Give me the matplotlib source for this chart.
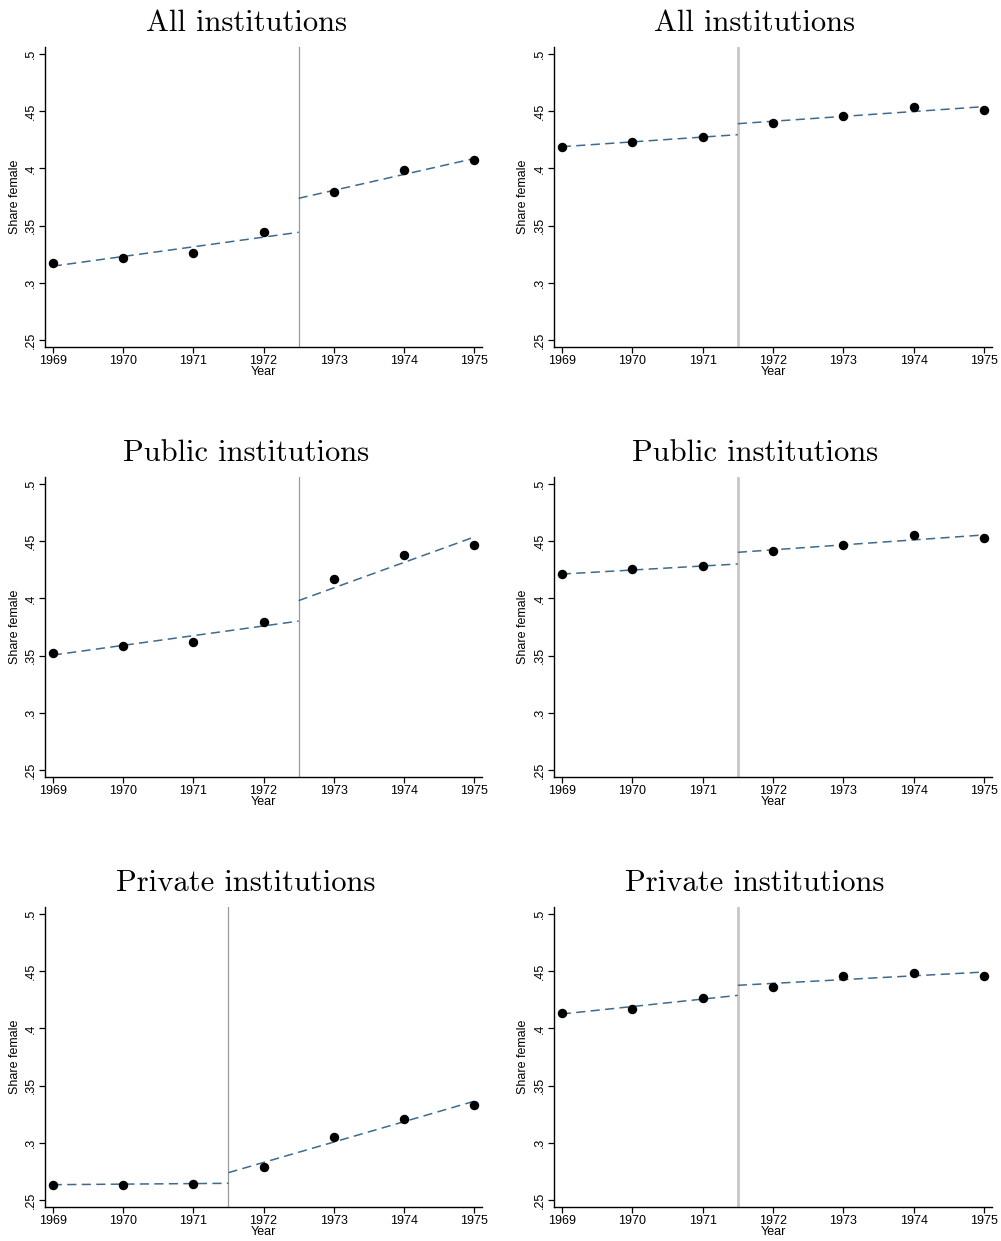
import matplotlib
matplotlib.use('Agg')
import matplotlib.pyplot as plt

# Datos (share female por año)
years = [1969, 1970, 1971, 1972, 1973, 1974, 1975]
titles = ['All institutions', 'Public institutions', 'Private institutions']

# Columna izquierda: corte distinto para cada panel
left_all = [0.317, 0.322, 0.326, 0.344, 0.379, 0.3985, 0.407]
left_public = [0.3524, 0.3585, 0.362, 0.3795, 0.4172, 0.4382, 0.4463]
left_private = [0.2634, 0.2634, 0.2643, 0.2792, 0.3048, 0.3206, 0.3331]
left_cutoffs = [1972.5, 1972.5, 1971.5]
# valores ajustados en los extremos: (inicio, corte-) y (corte+, final)
left_fit_pre = [(0.3145, 0.3441), (0.3504, 0.3801), (0.2634, 0.2646)]
left_fit_post = [(0.3738, 0.4086), (0.398, 0.4536), (0.2739, 0.3363)]

# Columna derecha: corte en 1971.5
right_all = [0.4186, 0.423, 0.4274, 0.4393, 0.446, 0.4539, 0.4507]
right_public = [0.4209, 0.4256, 0.4279, 0.4411, 0.4466, 0.4557, 0.4525]
right_private = [0.4137, 0.4169, 0.4265, 0.4364, 0.4457, 0.4487, 0.446]
right_cutoffs = [1971.5, 1971.5, 1971.5]
right_fit_pre = [(0.4189, 0.4294), (0.4212, 0.430), (0.4125, 0.4288)]
right_fit_post = [(0.439, 0.4539), (0.4402, 0.4554), (0.4376, 0.4492)]

yticks = [0.25, 0.3, 0.35, 0.4, 0.45, 0.5]
ytick_labels = ['.25', '.3', '.35', '.4', '.45', '.5']

W, H = 1001, 1241
fig = plt.figure(figsize=(W / 100, H / 100), dpi=100)
fig.patch.set_facecolor('white')

plt.rcParams['font.family'] = ['Liberation Sans', 'DejaVu Sans']

fit_color = '#3e6a8c'


def panel(left_px, top_px, width_px, values, cutoff, fit_pre, fit_post,
          vcolor, vwidth):
    ax = fig.add_axes([left_px / W, 1 - (top_px + 300) / H, width_px / W, 300 / H])
    ax.set_xlim(1968.89, 1975.11)
    ax.set_ylim(0.2439, 0.506)
    ax.axvline(cutoff, color=vcolor, linewidth=vwidth, zorder=1)
    ax.plot([years[0], cutoff], fit_pre, color=fit_color, linewidth=1.1,
            dashes=(6, 3.5), zorder=2)
    ax.plot([cutoff, years[-1]], fit_post, color=fit_color, linewidth=1.1,
            dashes=(6, 3.5), zorder=2)
    ax.plot(years, values, 'o', color='black', markersize=5.8, zorder=3)
    for s in ['top', 'right']:
        ax.spines[s].set_visible(False)
    for s in ['left', 'bottom']:
        ax.spines[s].set_linewidth(1.0)
    ax.set_xticks(years)
    ax.set_xticklabels([str(y) for y in years], fontsize=9)
    ax.set_yticks(yticks)
    ax.set_yticklabels(ytick_labels, fontsize=9, rotation=90, va='center')
    ax.tick_params(direction='out', length=4, width=0.9, pad=2)
    ax.set_xlabel('Year', fontsize=9, labelpad=-1)
    ax.set_ylabel('Share female', fontsize=9, labelpad=3)
    return ax


left_series = [left_all, left_public, left_private]
right_series = [right_all, right_public, right_private]
row_tops = [47, 477, 907]
title_y = [23, 453, 883]

for i in range(3):
    panel(45, row_tops[i], 437, left_series[i], left_cutoffs[i],
          left_fit_pre[i], left_fit_post[i], '#9a9a9a', 0.9)
    panel(554, row_tops[i], 438, right_series[i], right_cutoffs[i],
          right_fit_pre[i], right_fit_post[i], '#c8c8c8', 2.0)
    fig.text(246 / W, 1 - title_y[i] / H, titles[i], family='cmr10',
             fontsize=22, ha='center', va='center')
    fig.text(755 / W, 1 - title_y[i] / H, titles[i], family='cmr10',
             fontsize=22, ha='center', va='center')

plt.savefig('out.png', dpi=100, facecolor='white')
plt.close()
